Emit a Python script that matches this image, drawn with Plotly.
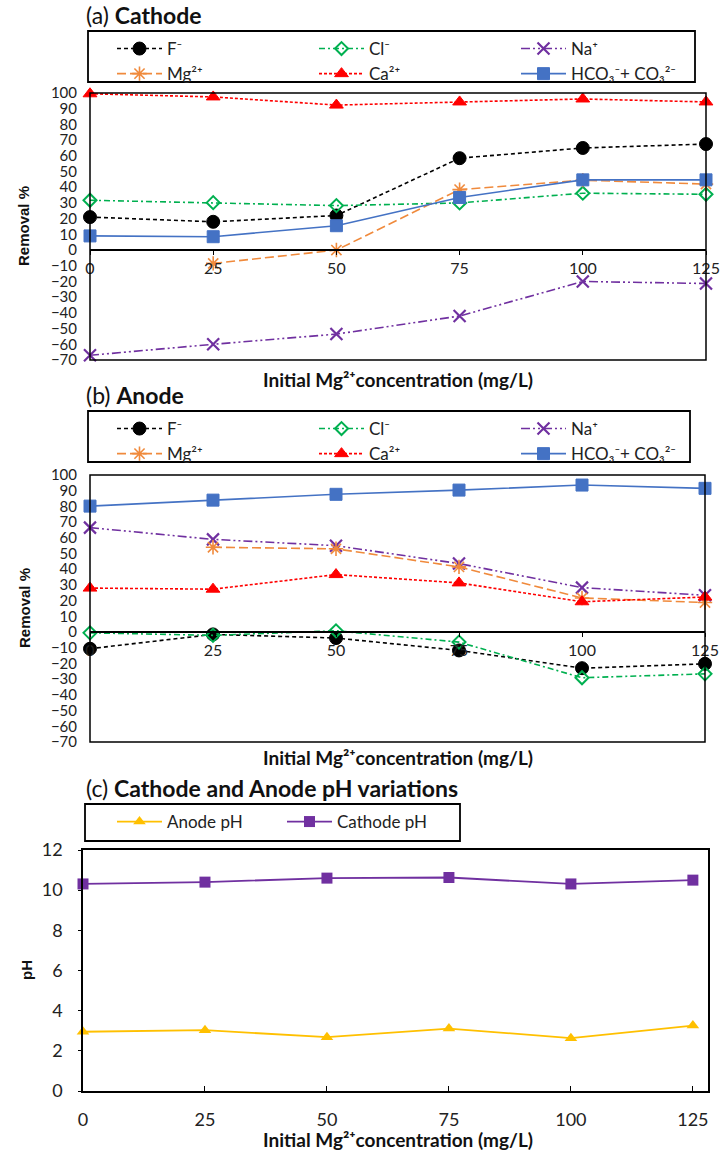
import plotly.graph_objects as go

W, H = 721, 1151

conc = [0, 25, 50, 75, 100, 125]
x_ticks = [0, 25, 50, 75, 100, 125]

# (a) Cathode removal %
cat_F = [21, 18, 22, 58.5, 65, 67.5]
cat_Cl = [31.7, 30.2, 28.3, 30, 36.2, 35.5]
cat_Na = [-67, -60, -53.5, -42, -20, -21.3]
cat_Mg = [None, -8.5, 0, 38.5, 44.5, 42]
cat_Ca = [99.5, 97.5, 92.3, 94.3, 96.2, 94.3]
cat_HCO3 = [9, 8.5, 15.5, 33.5, 44.7, 44.7]

# (b) Anode removal %
an_F = [-10.6, -1.5, -3.8, -11.7, -23, -20.2]
an_Cl = [-0.5, -2.1, 0.8, -6.4, -29.1, -26.6]
an_Na = [66.5, 59, 55, 43.6, 28.3, 23.4]
an_Mg = [None, 54, 53, 41.5, 21.7, 18.8]
an_Ca = [28, 27.3, 36.6, 31.3, 19.3, 22.3]
an_HCO3 = [80.2, 84, 87.7, 90.4, 93.6, 91.5]

# (c) pH
anode_pH = [2.95, 3.03, 2.68, 3.11, 2.63, 3.26]
cathode_pH = [10.31, 10.4, 10.6, 10.63, 10.31, 10.5]

names = ["F⁻", "Cl⁻", "Na⁺", "Mg²⁺", "Ca²⁺", "HCO₃⁻+ CO₃²⁻"]

FONT = "Lato, 'Open Sans', sans-serif"

def py(px):
    return 1 - px / H

def pxx(px):
    return px / W

styles = [
    dict(color="#000000", dash="4px,3px", symbol="circle", size=13, lw=1.0),
    dict(color="#00B050", dash="6px,3px,2px,3px", symbol="diamond-open", size=10, lw=2),
    dict(color="#7030A0", dash="9px,3px,2px,3px,2px,3px", symbol="x-thin-open", size=12, lw=2.2),
    dict(color="#F08A3C", dash="9px,4px", symbol="asterisk-open", size=12, lw=1.6),
    dict(color="#FF0000", dash="3px,2px", symbol="triangle-up", size=12, lw=1.0),
    dict(color="#4472C4", dash="solid", symbol="square", size=12, lw=1.0),
]

fig = go.Figure()

def add_series(ys, xa, ya, legend):
    for name, y, st in zip(names, ys, styles):
        fig.add_trace(go.Scatter(
            x=conc, y=y, name=name, mode="lines+markers",
            line=dict(color=st["color"], dash=st["dash"], width=1.6),
            marker=dict(symbol=st["symbol"], size=st["size"], color=st["color"],
                        line=dict(color=st["color"], width=st["lw"])),
            xaxis=xa, yaxis=ya, legend=legend, cliponaxis=False, connectgaps=False,
        ))

add_series([cat_F, cat_Cl, cat_Na, cat_Mg, cat_Ca, cat_HCO3], "x", "y", "legend")
add_series([an_F, an_Cl, an_Na, an_Mg, an_Ca, an_HCO3], "x2", "y2", "legend2")

fig.add_trace(go.Scatter(x=conc, y=anode_pH, name="Anode pH", mode="lines+markers",
                         line=dict(color="#FFC000", width=1.8),
                         marker=dict(symbol="triangle-up", size=11, color="#FFC000"),
                         xaxis="x3", yaxis="y3", legend="legend3", cliponaxis=False))
fig.add_trace(go.Scatter(x=conc, y=cathode_pH, name="Cathode pH", mode="lines+markers",
                         line=dict(color="#7030A0", width=1.8),
                         marker=dict(symbol="square", size=11, color="#7030A0"),
                         xaxis="x3", yaxis="y3", legend="legend3", cliponaxis=False))

# panel geometry (pixels)
a_left, a_right, a_top, a_bot, a_zero = 90, 706, 93, 360, 250
b_left, b_right, b_top, b_bot, b_zero = 90, 705, 475, 742, 632
c_left, c_right, c_top, c_bot = 83, 708, 850, 1091

tickfont = dict(family=FONT, size=15, color="#222")

def removal_axes(left, right, top, bot, zero, xname):
    xa = dict(domain=[pxx(left), pxx(right)], range=[0, 125], anchor="free",
              position=py(zero), tickvals=x_ticks, ticks="outside", ticklen=4,
              tickcolor="#000", showline=True, linecolor="#000", linewidth=1.5,
              showgrid=False, zeroline=False, tickfont=dict(family=FONT, size=16, color="#222"),
              automargin=False)
    ya = dict(domain=[py(bot), py(top)], range=[-70, 100], dtick=10, tick0=0,
              showgrid=False, zeroline=False, showline=False, ticks="",
              ticklabelstandoff=12, tickfont=tickfont, anchor=xname, automargin=False)
    return xa, ya

xa1, ya1 = removal_axes(a_left, a_right, a_top, a_bot, a_zero, "x")
xa2, ya2 = removal_axes(b_left, b_right, b_top, b_bot, b_zero, "x2")

ctick = dict(family=FONT, size=18, color="#222")
xa3 = dict(domain=[pxx(c_left), pxx(c_right)], range=[0, 128.1], tickvals=x_ticks,
           ticks="inside", ticklen=5, tickcolor="#000", showline=True, linecolor="#000",
           linewidth=1.5, mirror=True, showgrid=False, zeroline=False, tickfont=ctick,
           anchor="y3", ticklabelstandoff=12, automargin=False)
ya3 = dict(domain=[py(c_bot), py(c_top)], range=[0, 12], dtick=2, showgrid=False,
           zeroline=False, showline=True, linecolor="#000", linewidth=1.5, mirror=True,
           ticks="outside", ticklen=3, tickcolor="#000", tickfont=ctick, anchor="x3",
           ticklabelstandoff=12, automargin=False)

legfont = dict(family=FONT, size=17, color="#222")

def leg(xpx, ypx, ew):
    return dict(x=pxx(xpx), y=py(ypx), xanchor="left", yanchor="top", orientation="h",
                borderwidth=0, bgcolor="rgba(0,0,0,0)", font=legfont,
                entrywidth=ew, entrywidthmode="pixels", itemwidth=45,
                tracegroupgap=0, traceorder="normal")

shapes = []
for (xr, yr) in [("x", "y"), ("x2", "y2")]:
    shapes.append(dict(type="rect", xref=f"{xr} domain", yref=f"{yr} domain",
                       x0=0, x1=1, y0=0, y1=1, line=dict(color="#000", width=1.5),
                       layer="above"))
# legend frames
for (l, r, t, b) in [(88, 695, 31, 82), (88, 690, 411, 462), (85, 460, 804, 841)]:
    shapes.append(dict(type="rect", xref="paper", yref="paper",
                       x0=pxx(l), x1=pxx(r), y0=py(b), y1=py(t),
                       line=dict(color="#000", width=1.8), layer="above"))

annotations = []
def title(text, xpx, ypx):
    annotations.append(dict(text=text, x=pxx(xpx), y=py(ypx), xref="paper", yref="paper",
                            xanchor="left", yanchor="middle", showarrow=False,
                            font=dict(family=FONT, size=23, color="#111")))

title("(a) <b>Cathode</b>", 84, 15)
title("(b) <b>Anode</b>", 84, 395)
title("(c) <b>Cathode and Anode pH variations</b>", 84, 788)

xt = "<b>Initial Mg²⁺concentration (mg/L)</b>"
for cx, cy in [(398, 380), (398, 757), (398, 1139)]:
    annotations.append(dict(text=xt, x=pxx(cx), y=py(cy), xref="paper", yref="paper",
                            xanchor="center", yanchor="middle", showarrow=False,
                            font=dict(family=FONT, size=19, color="#111")))

for txt, cx, cy in [("<b>Removal %</b>", 24, 226), ("<b>Removal %</b>", 24, 608),
                    ("<b>pH</b>", 26, 970)]:
    annotations.append(dict(text=txt, x=pxx(cx), y=py(cy), xref="paper", yref="paper",
                            xanchor="center", yanchor="middle", showarrow=False,
                            textangle=-90,
                            font=dict(family="Liberation Sans, Arial, sans-serif",
                                      size=15, color="#111")))

fig.update_layout(
    width=W, height=H, margin=dict(l=0, r=0, t=0, b=0, autoexpand=False),
    paper_bgcolor="white", plot_bgcolor="white",
    xaxis=xa1, yaxis=ya1, xaxis2=xa2, yaxis2=ya2, xaxis3=xa3, yaxis3=ya3,
    legend=leg(112, 31, 142), legend2=leg(112, 411, 142), legend3=leg(112, 804, 110),
    shapes=shapes, annotations=annotations, showlegend=True,
)

fig.write_html("out.html")
